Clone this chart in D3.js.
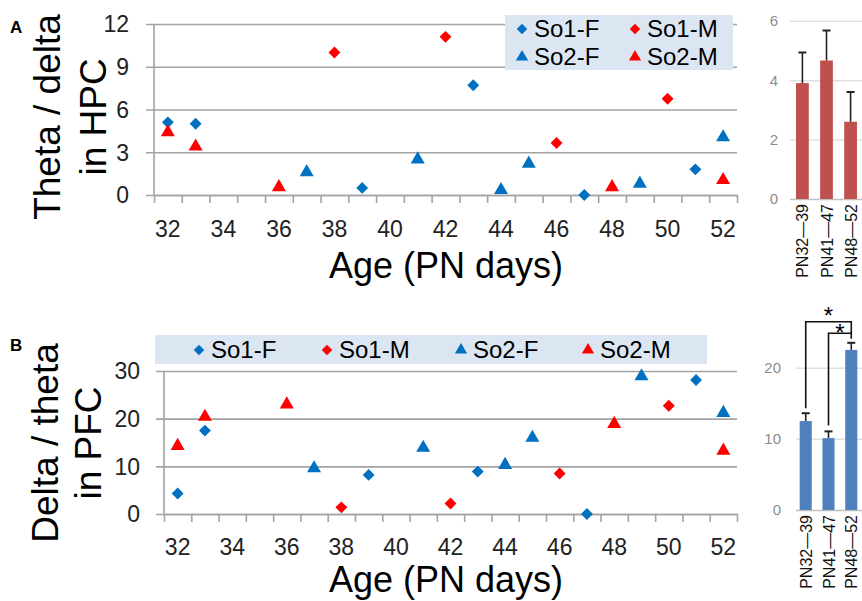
<!DOCTYPE html>
<html>
<head>
<meta charset="utf-8">
<script src="https://cdn.jsdelivr.net/npm/d3@7"></script>
<style>
  body { margin: 0; background: #fff; }
  svg { display: block; font-family: "Liberation Sans", Arial, sans-serif; }
  .tick-narrow { font-family: "Liberation Sans Narrow", "Arial Narrow", "Liberation Sans", sans-serif; }
</style>
</head>
<body>
<div id="chart"></div>
<script>
// Age axis labels (PN days)
const ageLabels = [32, 34, 36, 38, 40, 42, 44, 46, 48, 50, 52];
const ageTicks = [31.5, 32.5, 33.5, 34.5, 35.5, 36.5, 37.5, 38.5, 39.5, 40.5, 41.5,
  42.5, 43.5, 44.5, 45.5, 46.5, 47.5, 48.5, 49.5, 50.5, 51.5, 52.5];

// Panel A: theta / delta in HPC  [age, value]
const hpcSo1F = [[32, 5.1], [33, 5.0], [39, 0.5], [43, 7.7], [47, 0.0], [51, 1.8]];
const hpcSo1M = [[38, 10.0], [42, 11.1], [46, 3.65], [50, 6.75]];
const hpcSo2F = [[37, 1.6], [41, 2.5], [44, 0.35], [45, 2.2], [49, 0.8], [52, 4.05]];
const hpcSo2M = [[32, 4.4], [33, 3.4], [36, 0.55], [48, 0.55], [52, 1.05]];
const hpcTicks = [0, 3, 6, 9, 12];

// Panel B: delta / theta in PFC  [age, value]
const pfcSo1F = [[32, 4.3], [33, 17.5], [39, 8.2], [43, 8.9], [47, 0.0], [51, 28.1]];
const pfcSo1M = [[38, 1.4], [42, 2.2], [46, 8.5], [50, 22.7]];
const pfcSo2F = [[37, 9.6], [41, 13.9], [44, 10.3], [45, 16.0], [49, 28.9], [52, 21.2]];
const pfcSo2M = [[32, 14.3], [33, 20.4], [36, 23.0], [48, 18.9], [52, 13.3]];
const pfcTicks = [0, 10, 20, 30];

// Bar panels: group means and SEM
const groups = ["PN32\u201439", "PN41\u201447", "PN48\u201452"];
const hpcMean = [3.9, 4.66, 2.6];
const hpcErr = [1.03, 1.01, 1.0];
const hpcBarTicks = [0, 2, 4, 6];
const pfcMean = [12.5, 10.1, 22.5];
const pfcErr = [1.1, 0.95, 1.0];
const pfcBarTicks = [0, 10, 20];

const blue = "#0070c0";
const red = "#ff0000";
const gridColor = "#a3a3a3";

const width = 862;
const height = 601;

const svg = d3.select("#chart").append("svg")
  .attr("width", width)
  .attr("height", height);

const diamond = d3.symbol().type(d3.symbolDiamond2).size(90);
const triangle = d3.symbol().type(d3.symbolTriangle).size(85);

function drawScatter(opts) {
  const x = d3.scaleLinear().domain([31.5, 52.5]).range([opts.left, 737]);
  const y = d3.scaleLinear().domain(opts.yDomain).range([opts.bottom, opts.top]);

  // horizontal gridlines + small outside ticks
  const g = svg.append("g");
  g.append("g")
    .attr("transform", `translate(${opts.left},0)`)
    .call(d3.axisLeft(y).tickValues(opts.yTicks).tickSize(opts.left - 737).tickSizeOuter(0).tickFormat(""))
    .call((a) => a.select(".domain").remove())
    .call((a) => a.selectAll("line").attr("stroke", gridColor).attr("stroke-width", 1.6)
      .attr("x1", -8));

  // y axis line
  g.append("line")
    .attr("x1", opts.left).attr("x2", opts.left)
    .attr("y1", y(opts.yDomain[1])).attr("y2", opts.bottom)
    .attr("stroke", gridColor).attr("stroke-width", 1.6);

  // y tick labels
  g.append("g").selectAll("text")
    .data(opts.yTicks)
    .join("text")
    .attr("class", "tick-narrow")
    .attr("x", opts.yLabelX)
    .attr("y", (d) => y(d))
    .attr("dy", "0.36em")
    .attr("text-anchor", "end")
    .attr("font-size", 23)
    .attr("fill", "#222")
    .text((d) => d);

  // x axis with ticks between categories
  g.append("g")
    .attr("transform", `translate(0,${opts.bottom})`)
    .call(d3.axisBottom(x).tickValues(ageTicks).tickSize(8).tickSizeOuter(0).tickFormat(""))
    .call((a) => a.select(".domain").attr("stroke", gridColor).attr("stroke-width", 1.6))
    .call((a) => a.selectAll("line").attr("stroke", gridColor).attr("stroke-width", 1.6));

  g.append("g").selectAll("text")
    .data(ageLabels)
    .join("text")
    .attr("class", "tick-narrow")
    .attr("x", (d) => x(d))
    .attr("y", opts.xLabelY)
    .attr("text-anchor", "middle")
    .attr("font-size", 23)
    .attr("fill", "#222")
    .text((d) => d);

  // x title
  g.append("text")
    .attr("x", 446)
    .attr("y", opts.xTitleY)
    .attr("text-anchor", "middle")
    .attr("font-size", 36)
    .text("Age (PN days)");

  // y title (two lines)
  const yt = g.append("g").attr("transform", `translate(0,${opts.yTitleCenter})`);
  opts.yTitle.forEach((line, i) => {
    yt.append("text")
      .attr("transform", `translate(${opts.yTitleX[i]},0) rotate(-90)`)
      .attr("text-anchor", "middle")
      .attr("font-size", 37)
      .text(line);
  });

  // panel letter
  g.append("text")
    .attr("x", 10).attr("y", opts.letterY)
    .attr("font-size", 17).attr("font-weight", "bold")
    .text(opts.letter);

  // legend box
  const lg = g.append("g");
  lg.append("rect")
    .attr("x", opts.legend.x).attr("y", opts.legend.y)
    .attr("width", opts.legend.w).attr("height", opts.legend.h)
    .attr("fill", "#dce6f2");
  opts.legend.items.forEach((it) => {
    lg.append("path")
      .attr("d", it.shape === "d" ? d3.symbol().type(d3.symbolDiamond2).size(70)() : d3.symbol().type(d3.symbolTriangle).size(65)())
      .attr("transform", `translate(${it.mx},${it.my})`)
      .attr("fill", it.color);
    lg.append("text")
      .attr("x", it.mx + 12).attr("y", it.my + 8)
      .attr("font-size", 24)
      .text(it.label);
  });

  // points
  const series = [
    { data: opts.series[0], shape: diamond, color: blue },
    { data: opts.series[1], shape: diamond, color: red },
    { data: opts.series[2], shape: triangle, color: blue },
    { data: opts.series[3], shape: triangle, color: red },
  ];
  series.forEach((s) => {
    g.append("g").selectAll("path")
      .data(s.data)
      .join("path")
      .attr("d", s.shape)
      .attr("transform", (d) => `translate(${x(d[0])},${y(d[1])})`)
      .attr("fill", s.color);
  });
}

drawScatter({
  left: 154, top: 24, bottom: 195,
  yDomain: [0, 12], yTicks: hpcTicks, yLabelX: 129,
  xLabelY: 237, xTitleY: 278,
  yTitle: ["Theta / delta", "in HPC"], yTitleX: [60, 106], yTitleCenter: 117,
  letter: "A", letterY: 33,
  series: [hpcSo1F, hpcSo1M, hpcSo2F, hpcSo2M],
  legend: {
    x: 505, y: 15, w: 228, h: 55,
    items: [
      { label: "So1-F", shape: "d", color: blue, mx: 522, my: 29 },
      { label: "So1-M", shape: "d", color: red, mx: 635, my: 29 },
      { label: "So2-F", shape: "t", color: blue, mx: 522, my: 57 },
      { label: "So2-M", shape: "t", color: red, mx: 635, my: 57 },
    ],
  },
});

drawScatter({
  left: 164, top: 371, bottom: 514,
  yDomain: [0, 30], yTicks: pfcTicks, yLabelX: 140,
  xLabelY: 555, xTitleY: 592,
  yTitle: ["Delta / theta", "in PFC"], yTitleX: [58, 101], yTitleCenter: 443,
  letter: "B", letterY: 351,
  series: [pfcSo1F, pfcSo1M, pfcSo2F, pfcSo2M],
  legend: {
    x: 155, y: 335, w: 552, h: 29,
    items: [
      { label: "So1-F", shape: "d", color: blue, mx: 199, my: 350 },
      { label: "So1-M", shape: "d", color: red, mx: 327, my: 350 },
      { label: "So2-F", shape: "t", color: blue, mx: 461, my: 350 },
      { label: "So2-M", shape: "t", color: red, mx: 588, my: 350 },
    ],
  },
});

function drawBars(opts) {
  const x = d3.scaleBand().domain(groups).range([opts.left, 863]).paddingInner(0.47).paddingOuter(0.25);
  const y = d3.scaleLinear().domain(opts.yDomain).range([opts.bottom, opts.top]);
  const g = svg.append("g");

  g.append("g")
    .attr("transform", `translate(${opts.gridLeft},0)`)
    .call(d3.axisLeft(y).tickValues(opts.yTicks).tickSize(opts.gridLeft - 862).tickFormat(""))
    .call((a) => a.select(".domain").remove())
    .call((a) => a.selectAll("line").attr("stroke", (d) => d === 0 ? "#bfbfbf" : "#e0e0e0").attr("stroke-width", 1.5));

  g.append("g").selectAll("text")
    .data(opts.yTicks)
    .join("text")
    .attr("x", opts.labelX)
    .attr("y", (d) => y(d))
    .attr("dy", "0.36em")
    .attr("text-anchor", "end")
    .attr("font-size", 15)
    .attr("fill", "#8c8c8c")
    .text((d) => d);

  g.append("g").selectAll("rect")
    .data(groups)
    .join("rect")
    .attr("x", (d) => x(d))
    .attr("width", x.bandwidth())
    .attr("y", (d, i) => y(opts.mean[i]))
    .attr("height", (d, i) => opts.bottom - y(opts.mean[i]))
    .attr("fill", opts.color);

  // error bars (upper only)
  groups.forEach((d, i) => {
    const cx = x(d) + x.bandwidth() / 2;
    const top = y(opts.mean[i] + opts.err[i]);
    g.append("line").attr("x1", cx).attr("x2", cx)
      .attr("y1", y(opts.mean[i])).attr("y2", top)
      .attr("stroke", "#222").attr("stroke-width", 1.6);
    g.append("line").attr("x1", cx - 4).attr("x2", cx + 4)
      .attr("y1", top).attr("y2", top)
      .attr("stroke", "#222").attr("stroke-width", 2);
  });

  // rotated category labels
  g.append("g").selectAll("text")
    .data(groups)
    .join("text")
    .attr("transform", (d) => `translate(${x(d) + x.bandwidth() / 2 + 6},${opts.bottom + 5}) rotate(-90)`)
    .attr("text-anchor", "end")
    .attr("font-size", 16)
    .attr("fill", "#111")
    .text((d) => d);

  return { x, y, g };
}

drawBars({
  left: 790, gridLeft: 790, top: 20.7, bottom: 199,
  yDomain: [0, 6], yTicks: hpcBarTicks, labelX: 778,
  mean: hpcMean, err: hpcErr, color: "#c0504d",
});

const pb = drawBars({
  left: 794, gridLeft: 796, top: 367.7, bottom: 510,
  yDomain: [0, 20], yTicks: pfcBarTicks, labelX: 781,
  mean: pfcMean, err: pfcErr, color: "#4f81bd",
});

// significance brackets
const bx = (i) => pb.x(groups[i]) + pb.x.bandwidth() / 2;
const errTop = (i) => pb.y(pfcMean[i] + pfcErr[i]);
const bracket = pb.g.append("g").attr("fill", "none").attr("stroke", "#111").attr("stroke-width", 1.6);
bracket.append("path")
  .attr("d", `M${bx(0)},${errTop(0) - 5}V321.7H${bx(2)}V333`);
bracket.append("path")
  .attr("d", `M${bx(1)},${errTop(1) - 6}V333.3H${bx(2)}V${errTop(2) - 4}`);
pb.g.append("text").attr("x", (bx(0) + bx(2)) / 2).attr("y", 324)
  .attr("text-anchor", "middle").attr("font-size", 24).text("*");
pb.g.append("text").attr("x", (bx(1) + bx(2)) / 2).attr("y", 341)
  .attr("text-anchor", "middle").attr("font-size", 24).text("*");
</script>
</body>
</html>
